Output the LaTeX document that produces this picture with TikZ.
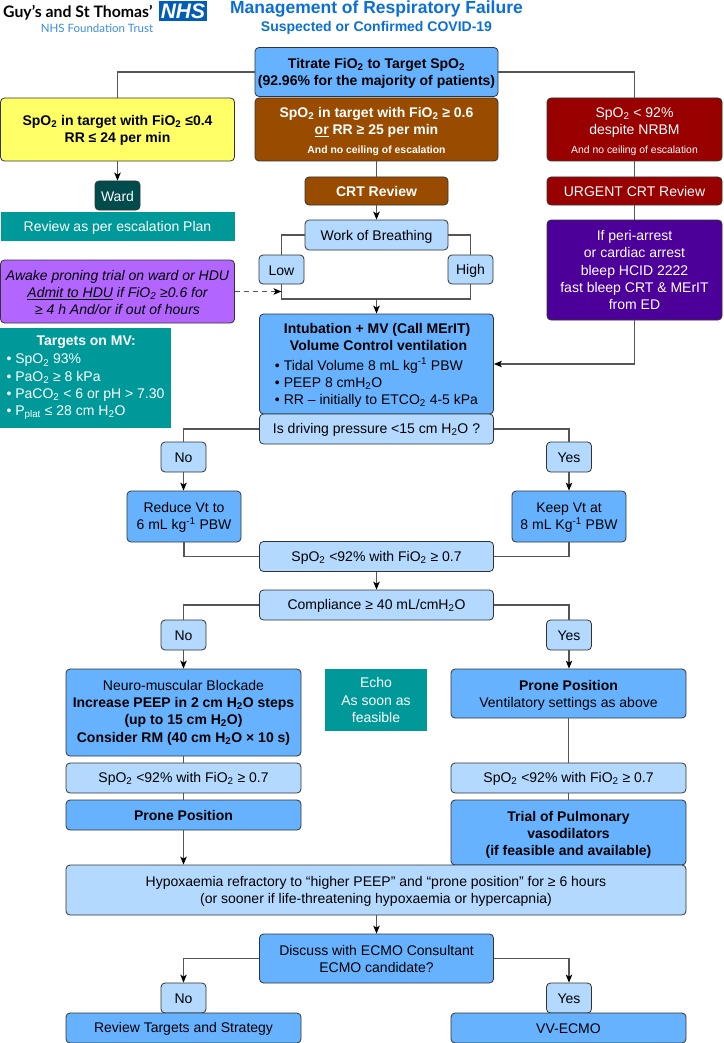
\documentclass[tikz,border=0pt]{standalone}
\usepackage{fontspec}
\usetikzlibrary{arrows.meta}
\setmainfont{Liberation Sans}
\newfontfamily\logofont{Lato}
\definecolor{paleblue}{HTML}{B3D9FF}
\definecolor{midblue}{HTML}{66B2FF}
\definecolor{headblue}{HTML}{0A6FD8}
\definecolor{nhsblue}{HTML}{005EB8}
\definecolor{sunyellow}{HTML}{FFFF66}
\definecolor{rustbrown}{HTML}{994C00}
\definecolor{deepred}{HTML}{990000}
\definecolor{deepindigo}{HTML}{4C0099}
\definecolor{softpurple}{HTML}{B266FF}
\definecolor{tealbox}{HTML}{009999}
\definecolor{wardteal}{HTML}{004C4C}
\definecolor{linegrey}{HTML}{555555}
\newcommand{\subtwo}{\textsubscript{2}}
\tikzset{
    lift/.style={execute at begin node={\rule{0pt}{#1}}},
    flowbox/.style={draw=black!80, line width=0.8pt, rounded corners=4pt, align=center, inner sep=0pt,
        lift=12pt, font=\fontsize{14}{17.3}\selectfont},
    palebox/.style={flowbox, fill=paleblue},
    midbox/.style={flowbox, fill=midblue},
    tealnote/.style={flowbox, draw=none, rounded corners=0pt, fill=tealbox, text=white},
    flow/.style={draw=linegrey, line width=1.1pt},
    flowarrow/.style={flow, -{Stealth[length=8pt, width=6.5pt, inset=2pt, black]}},
}
\begin{document}
\begin{tikzpicture}[x=1pt, y=-1pt]
                \useasboundingbox (0, 0) rectangle (723, 1043);
                % logo and heading
                \node [anchor=west, inner sep=0pt, font=\logofont\bfseries\fontsize{15.8}{17}\selectfont] (trust) at (3, 12.5) {Guy’s and St Thomas’};
                \node [fill=nhsblue, text=white, inner sep=0pt, minimum width=48pt, minimum height=20pt, font=\bfseries\itshape\fontsize{21}{21}\selectfont] (nhs) at (183, 11.5) {NHS};
                \node [inner sep=0pt, text=headblue!80!white, font=\logofont\fontsize{11.5}{13}\selectfont] (found) at (97, 28) {NHS Foundation Trust};
                \node [inner sep=0pt, text=headblue, font=\bfseries\fontsize{17.5}{20}\selectfont] (heading) at (376.5, 9.5) {Management of Respiratory Failure};
                \node [inner sep=0pt, text=headblue, font=\bfseries\fontsize{14}{16}\selectfont] (subheading) at (376.5, 28) {Suspected or Confirmed COVID-19};
                % top row
                \node [midbox, lift=30.5pt, minimum width=243pt, minimum height=49pt, font=\bfseries\fontsize{14}{17.3}\selectfont] (titrate) at (376.5, 72) {Titrate FiO\subtwo{} to Target SpO\subtwo\\(92.96\% for the majority of patients)};
                \node [flowbox, lift=29.3pt, fill=sunyellow, minimum width=234pt, minimum height=63pt, font=\bfseries\fontsize{14}{17.3}\selectfont] (stable) at (117.5, 129.5) {SpO\subtwo{} in target with FiO\subtwo{} ≤0.4\\RR ≤ 24 per min};
                \node [flowbox, lift=49.6pt, fill=rustbrown, text=white, minimum width=243pt, minimum height=63pt, font=\bfseries\fontsize{14}{17.3}\selectfont] (worse) at (376.5, 129.5) {SpO\subtwo{} in target with FiO\subtwo{} ≥ 0.6\\\underline{or} RR ≥ 25 per min\\[1pt]{\fontsize{10.4}{13}\selectfont And no ceiling of escalation}};
                \node [flowbox, lift=49.6pt, fill=deepred, text=white, minimum width=175pt, minimum height=63pt] (severe) at (634.5, 129.5) {SpO\subtwo{} < 92\%\\despite NRBM\\[1pt]{\fontsize{10.4}{13}\selectfont And no ceiling of escalation}};
                % left column
                \node [flowbox, lift=0pt, fill=wardteal, text=white, minimum width=45pt, minimum height=29pt] (ward) at (117.5, 195.5) {Ward};
                \node [tealnote, minimum width=234pt, minimum height=29pt] (escalation) at (117.5, 226.5) {Review as per escalation Plan};
                \node [flowbox, lift=46.6pt, fill=softpurple, minimum width=234pt, minimum height=63pt, font=\itshape\fontsize{14}{17.3}\selectfont] (proning) at (117.5, 291.5) {Awake proning trial on ward or HDU\\\underline{Admit to HDU} if FiO\subtwo{} ≥0.6 for\\≥ 4 h And/or if out of hours};
                \node [tealnote, lift=0pt, minimum width=171pt, minimum height=100pt, align=left] (targets) at (85.5, 378) {\hspace*{30pt}\textbf{Targets on MV:}\\[1pt]• SpO\subtwo{} 93\%\\• PaO\subtwo{} ≥ 8 kPa\\• PaCO\subtwo{} < 6 or pH > 7.30\\• P\textsubscript{plat} ≤ 28 cm H\subtwo{}O};
                % centre column
                \node [flowbox, lift=0pt, fill=rustbrown, text=white, minimum width=143pt, minimum height=28pt, font=\bfseries\fontsize{14}{17.3}\selectfont] (crt) at (376.5, 191) {CRT Review};
                \node [palebox, lift=14pt, minimum width=143pt, minimum height=30pt] (breathing) at (376.5, 235) {Work of Breathing};
                \node [palebox, minimum width=45pt, minimum height=29pt] (low) at (281.5, 269.5) {Low};
                \node [palebox, minimum width=45pt, minimum height=29pt] (high) at (470.5, 269.5) {High};
                \coordinate (merge) at (376.5, 299);
                \node [midbox, lift=84.2pt, minimum width=234pt, minimum height=100pt, align=left] (intubation) at (376.5, 364) {\hspace*{9pt}\textbf{Intubation + MV (Call MErIT)}\\\hspace*{15pt}\textbf{Volume Control ventilation}\\[2pt]• Tidal Volume 8 mL kg\textsuperscript{-1} PBW\\• PEEP 8 cmH\subtwo{}O\\• RR – initially to ETCO\subtwo{} 4-5 kPa};
                \node [palebox, minimum width=234pt, minimum height=30pt] (driving) at (376.5, 429) {Is driving pressure <15 cm H\subtwo{}O ?};
                % right column
                \node [flowbox, lift=0pt, fill=deepred, text=white, minimum width=175pt, minimum height=28pt] (urgent) at (634.5, 191) {URGENT CRT Review};
                \node [flowbox, lift=0pt, fill=deepindigo, text=white, minimum width=175pt, minimum height=100pt] (arrest) at (634.5, 270) {If peri-arrest\\or cardiac arrest\\bleep HCID 2222\\fast bleep CRT \& MErIT\\from ED};
                % driving pressure branch
                \node [palebox, minimum width=45pt, minimum height=30pt] (nodrive) at (183.5, 457) {No};
                \node [palebox, minimum width=45pt, minimum height=30pt] (yesdrive) at (569, 457) {Yes};
                \node [midbox, lift=29.3pt, minimum width=114pt, minimum height=51pt] (reduce) at (184, 516.5) {Reduce Vt to\\6 mL kg\textsuperscript{-1} PBW};
                \node [midbox, lift=29.3pt, minimum width=114pt, minimum height=51pt] (keep) at (569, 516.5) {Keep Vt at\\8 mL Kg\textsuperscript{-1} PBW};
                \node [palebox, minimum width=234pt, minimum height=30pt] (hypoxic) at (376.5, 556.5) {SpO\subtwo{} <92\% with FiO\subtwo{} ≥ 0.7};
                \node [palebox, minimum width=234pt, minimum height=30pt] (compliance) at (376.5, 605) {Compliance ≥ 40 mL/cmH\subtwo{}O};
                \node [palebox, minimum width=45pt, minimum height=30pt] (nocomp) at (183.5, 635) {No};
                \node [palebox, minimum width=45pt, minimum height=30pt] (yescomp) at (569, 635) {Yes};
                % compliance branch
                \node [midbox, lift=0pt, minimum width=235pt, minimum height=87pt] (blockade) at (183.5, 712.5) {Neuro-muscular Blockade\\\textbf{Increase PEEP in 2 cm H\subtwo{}O steps}\\\textbf{(up to 15 cm H\subtwo{}O)}\\\textbf{Consider RM (40 cm H\subtwo{}O × 10 s)}};
                \node [tealnote, lift=0pt, minimum width=102pt, minimum height=62pt] (echo) at (376, 700) {Echo\\As soon as\\feasible};
                \node [midbox, lift=31.3pt, minimum width=235pt, minimum height=49pt] (proneright) at (568.5, 693.5) {\textbf{Prone Position}\\Ventilatory settings as above};
                \node [palebox, minimum width=235pt, minimum height=30pt] (hypoxicleft) at (183.5, 778) {SpO\subtwo{} <92\% with FiO\subtwo{} ≥ 0.7};
                \node [palebox, minimum width=235pt, minimum height=30pt] (hypoxicright) at (568.5, 778) {SpO\subtwo{} <92\% with FiO\subtwo{} ≥ 0.7};
                \node [midbox, lift=0pt, minimum width=235pt, minimum height=30pt, font=\bfseries\fontsize{14}{17.3}\selectfont] (proneleft) at (183.5, 815) {Prone Position};
                \node [midbox, lift=49.6pt, minimum width=235pt, minimum height=65pt, font=\bfseries\fontsize{14}{17.3}\selectfont] (vasodilators) at (568.5, 832.5) {Trial of Pulmonary\\vasodilators\\(if feasible and available)};
                % ECMO
                \node [palebox, lift=30.3pt, minimum width=620pt, minimum height=50pt] (refractory) at (376, 890) {Hypoxaemia refractory to “higher PEEP” and “prone position” for ≥ 6 hours\\(or sooner if life-threatening hypoxaemia or hypercapnia)};
                \node [midbox, lift=28.3pt, minimum width=234pt, minimum height=49pt] (discuss) at (376.5, 958.5) {Discuss with ECMO Consultant\\ECMO candidate?};
                \node [palebox, minimum width=45pt, minimum height=30pt] (noecmo) at (183.5, 998) {No};
                \node [palebox, minimum width=45pt, minimum height=30pt] (yesecmo) at (569, 998) {Yes};
                \node [midbox, minimum width=235pt, minimum height=30pt] (strategy) at (183.5, 1028) {Review Targets and Strategy};
                \node [midbox, minimum width=235pt, minimum height=30pt] (vvecmo) at (568.5, 1028) {VV-ECMO};
                % connectors
                \draw [flow] (titrate.west) -| (stable.north);
                \draw [flow] (titrate.east) -| (severe.north);
                \draw [flowarrow] (stable.south) -- (ward.north);
                \draw [flow] (worse.south) -- (crt.north);
                \draw [flowarrow] (crt.south) -- (breathing.north);
                \draw [flow] (breathing.west) -| (low.north);
                \draw [flow] (breathing.east) -| (high.north);
                \draw [flow] (low.south) |- (merge) -| (high.south);
                \draw [flowarrow] (merge) -- (intubation.north);
                \draw [flowarrow, dash pattern=on 5pt off 4pt] (proning.east) -- (proning.east -| low.south);
                \draw [flow] (severe.south) -- (urgent.north);
                \draw [flow] (urgent.south) -- (arrest.north);
                \draw [flowarrow] (arrest.south) |- (intubation.east);
                \draw [flow] (driving.west) -| (nodrive.north);
                \draw [flow] (driving.east) -| (yesdrive.north);
                \draw [flowarrow] (nodrive.south) -- (reduce.north -| nodrive.south);
                \draw [flowarrow] (yesdrive.south) -- (keep.north);
                \draw [flow] (reduce.south) |- (hypoxic.west);
                \draw [flow] (keep.south) |- (hypoxic.east);
                \draw [flowarrow] (hypoxic.south) -- (compliance.north);
                \draw [flow] (compliance.west) -| (nocomp.north);
                \draw [flow] (compliance.east) -| (yescomp.north);
                \draw [flowarrow] (nocomp.south) -- (blockade.north);
                \draw [flowarrow] (yescomp.south) -- (proneright.north -| yescomp.south);
                \draw [flow] (blockade.south) -- (hypoxicleft.north);
                \draw [flow] (hypoxicleft.south) -- (proneleft.north);
                \draw [flowarrow] (proneleft.south) -- (refractory.north -| proneleft.south);
                \draw [flow] (proneright.south) -- (hypoxicright.north);
                \draw [flow] (hypoxicright.south) -- (vasodilators.north);
                \draw [flowarrow] (refractory.south -| discuss.north) -- (discuss.north);
                \draw [flowarrow] (discuss.west) -| (noecmo.north);
                \draw [flowarrow] (discuss.east) -| (yesecmo.north);
            \end{tikzpicture}
\end{document}
